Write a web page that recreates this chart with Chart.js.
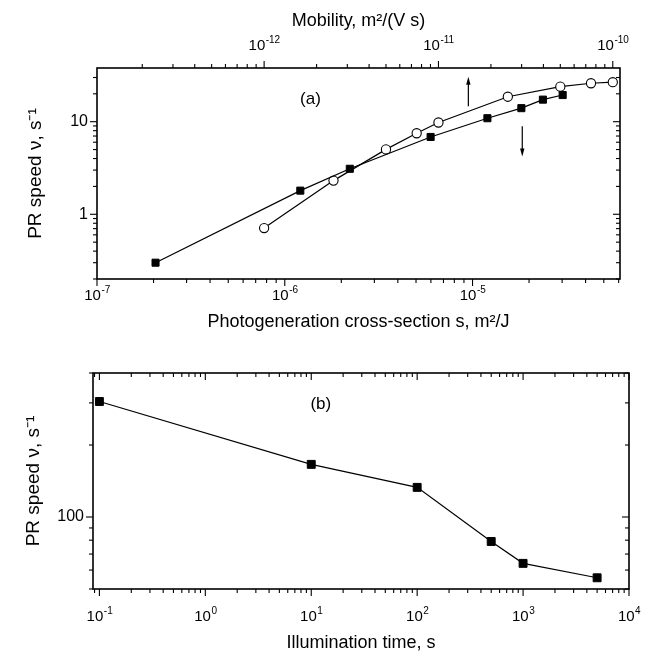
<!DOCTYPE html>
<html>
<head>
<meta charset="utf-8">
<script src="https://cdn.jsdelivr.net/npm/chart.js@4.4.1/dist/chart.umd.min.js"></script>
<style>
  body { margin: 0; background: #fff; }
  #wrapA { position: absolute; left: 0; top: 0; width: 657px; height: 345px; }
  #wrapB { position: absolute; left: 0; top: 345px; width: 657px; height: 315px; }
</style>
</head>
<body>
<div id="wrapA"><canvas id="chartA" width="657" height="345"></canvas></div>
<div id="wrapB"><canvas id="chartB" width="657" height="315"></canvas></div>
<script>
// (a) PR speed vs photogeneration cross-section (filled squares, bottom axis)
const crossSection = [2.05e-7, 1.21e-6, 2.22e-6, 5.98e-6, 1.2e-5, 1.82e-5, 2.37e-5, 3.02e-5];
const speedCross   = [0.30, 1.80, 3.10, 6.84, 10.9, 14.0, 17.3, 19.4];
// (a) PR speed vs mobility (open circles, top axis)
const mobility = [1e-12, 2.5e-12, 5e-12, 7.5e-12, 1e-11, 2.5e-11, 5e-11, 7.5e-11, 1e-10];
const speedMob = [0.71, 2.31, 5.02, 7.5, 9.8, 18.6, 23.9, 26.0, 26.7];
// (b) PR speed vs illumination time
const illumTime = [0.1, 10, 100, 500, 1000, 5000];
const speedTime = [304, 166, 133, 79, 64, 55.7];

// axis ranges
const rangeCross  = [1e-7, 6.1e-5];
const rangeMob    = [1.1e-13, 1.1e-10];
const rangeSpeedA = [0.2, 38];
const rangeTime   = [0.087, 1e4];
const rangeSpeedB = [50, 400];

// arrows in (a): x on cross-section axis, y from -> to
const arrowX    = [9.5e-6, 1.84e-5];
const arrowFrom = [14.7, 8.9];
const arrowTo   = [30.5, 4.2];

const FONT = '"Liberation Sans", Arial, sans-serif';
Chart.defaults.font.family = FONT;
Chart.defaults.color = '#000';

function isDecade(v) {
  const e = Math.log10(v);
  return Math.abs(e - Math.round(e)) < 1e-6;
}
function plainLabel(v) {
  if (!isDecade(v)) return '';
  return String(Math.round(v));
}

// box, log ticks and 10^n labels with real superscripts
const framePlugin = {
  id: 'frame',
  afterDraw(chart, args, opts) {
    const ctx = chart.ctx, a = chart.chartArea;
    ctx.save();
    ctx.strokeStyle = '#000';
    ctx.fillStyle = '#000';
    ctx.lineWidth = 1.6;
    ctx.strokeRect(a.left, a.top, a.right - a.left, a.bottom - a.top);
    ctx.lineWidth = 1.1;
    opts.sides.forEach(([id, side, dir]) => {
      const s = chart.scales[id];
      const lo = Math.floor(Math.log10(s.min)), hi = Math.ceil(Math.log10(s.max));
      for (let e = lo; e <= hi; e++) {
        for (let k = 1; k <= 9; k++) {
          const v = k * Math.pow(10, e);
          if (v < s.min * 0.999 || v > s.max * 1.001) continue;
          const p = s.getPixelForValue(v);
          const len = (k === 1 ? 7 : 4) * dir;
          ctx.beginPath();
          if (side === 'bottom') { ctx.moveTo(p, a.bottom); ctx.lineTo(p, a.bottom + len); }
          if (side === 'top')    { ctx.moveTo(p, a.top);    ctx.lineTo(p, a.top - len); }
          if (side === 'left')   { ctx.moveTo(a.left, p);   ctx.lineTo(a.left - len, p); }
          if (side === 'right')  { ctx.moveTo(a.right, p);  ctx.lineTo(a.right + len, p); }
          ctx.stroke();
        }
      }
    });
    // "10" with superscript exponent, centred on each decade tick
    ctx.textBaseline = 'alphabetic';
    ctx.textAlign = 'left';
    (opts.powLabels || []).forEach(([id, baseY]) => {
      const s = chart.scales[id];
      const lo = Math.ceil(Math.log10(s.min) - 1e-9), hi = Math.floor(Math.log10(s.max) + 1e-9);
      const y = baseY(a);
      for (let e = lo; e <= hi; e++) {
        const p = s.getPixelForValue(Math.pow(10, e));
        const exp = String(e);
        ctx.font = '15px ' + FONT;
        const wb = ctx.measureText('10').width;
        ctx.font = '10px ' + FONT;
        const we = ctx.measureText(exp).width;
        const x0 = p - (wb + we) / 2;
        ctx.font = '15px ' + FONT;
        ctx.fillText('10', x0, y);
        ctx.font = '10px ' + FONT;
        ctx.fillText(exp, x0 + wb + 0.5, y - 7);
      }
    });
    ctx.restore();
  }
};

// panel letters and arrows
const notePlugin = {
  id: 'notes',
  afterDatasetsDraw(chart, args, opts) {
    const ctx = chart.ctx;
    const xs = chart.scales[opts.xScale], ys = chart.scales[opts.yScale];
    ctx.save();
    ctx.fillStyle = '#000';
    ctx.strokeStyle = '#000';
    ctx.font = '17px ' + FONT;
    ctx.textAlign = 'center';
    ctx.textBaseline = 'middle';
    ctx.fillText(opts.label, xs.getPixelForValue(opts.labelAt[0]), ys.getPixelForValue(opts.labelAt[1]));
    (opts.arrowX || []).forEach((xv, i) => {
      const x = xs.getPixelForValue(xv);
      const y0 = ys.getPixelForValue(opts.arrowFrom[i]);
      const y1 = ys.getPixelForValue(opts.arrowTo[i]);
      const d = y1 < y0 ? -1 : 1;
      ctx.lineWidth = 1.2;
      ctx.beginPath();
      ctx.moveTo(x, y0);
      ctx.lineTo(x, y1 - d * 6);
      ctx.stroke();
      ctx.beginPath();
      ctx.moveTo(x, y1);
      ctx.lineTo(x - 2.2, y1 - d * 8);
      ctx.lineTo(x + 2.2, y1 - d * 8);
      ctx.closePath();
      ctx.fill();
    });
    ctx.restore();
  }
};

const titleFont = { size: 18 };
const noLabels = { autoSkip: false, display: true, callback: () => '' };

new Chart(document.getElementById('chartA'), {
  type: 'line',
  data: {
    datasets: [
      {
        data: crossSection.map((x, i) => ({ x: x, y: speedCross[i] })),
        xAxisID: 'x', yAxisID: 'y',
        borderColor: '#000', borderWidth: 1.2,
        pointStyle: 'rect', pointRadius: 5,
        pointBackgroundColor: '#000', pointBorderColor: '#000', pointBorderWidth: 1
      },
      {
        data: mobility.map((x, i) => ({ x: x, y: speedMob[i] })),
        xAxisID: 'x2', yAxisID: 'y',
        borderColor: '#000', borderWidth: 1.2,
        pointStyle: 'circle', pointRadius: 4.6,
        pointBackgroundColor: '#fff', pointBorderColor: '#000', pointBorderWidth: 1.1
      }
    ]
  },
  options: {
    responsive: false,
    animation: false,
    layout: { padding: { left: 0, right: 37, top: 0, bottom: 0 } },
    plugins: {
      legend: { display: false },
      tooltip: { enabled: false },
      frame: {
        sides: [['x', 'bottom', 1], ['x2', 'top', 1], ['y', 'left', 1], ['y', 'right', -1]],
        powLabels: [['x', a => a.bottom + 21], ['x2', a => a.top - 18]]
      },
      notes: {
        xScale: 'x', yScale: 'y',
        label: '(a)', labelAt: [1.37e-6, 17.6],
        arrowX: arrowX, arrowFrom: arrowFrom, arrowTo: arrowTo
      }
    },
    scales: {
      x: {
        type: 'logarithmic', position: 'bottom',
        min: rangeCross[0], max: rangeCross[1],
        grid: { display: false, drawTicks: false },
        border: { display: false },
        ticks: noLabels,
        title: { display: true, text: 'Photogeneration cross-section s, m²/J', font: titleFont, padding: { bottom: 12 } },
        afterFit: s => { s.height = 66; }
      },
      x2: {
        type: 'logarithmic', position: 'top',
        min: rangeMob[0], max: rangeMob[1],
        grid: { display: false, drawTicks: false },
        border: { display: false },
        ticks: noLabels,
        title: { display: true, text: 'Mobility, m²/(V s)', font: titleFont, padding: { top: 10 } },
        afterFit: s => { s.height = 68; }
      },
      y: {
        type: 'logarithmic', position: 'left',
        min: rangeSpeedA[0], max: rangeSpeedA[1],
        grid: { display: false, drawTicks: false },
        border: { display: false },
        ticks: { autoSkip: false, padding: 9, font: { size: 16 }, callback: v => plainLabel(v) },
        title: { display: true, text: 'PR speed ν, s⁻¹', font: { size: 19 }, padding: { top: 24 } },
        afterFit: s => { s.width = 97; }
      }
    }
  },
  plugins: [framePlugin, notePlugin]
});

new Chart(document.getElementById('chartB'), {
  type: 'line',
  data: {
    datasets: [
      {
        data: illumTime.map((x, i) => ({ x: x, y: speedTime[i] })),
        borderColor: '#000', borderWidth: 1.2,
        pointStyle: 'rect', pointRadius: 5.6,
        pointBackgroundColor: '#000', pointBorderColor: '#000', pointBorderWidth: 1
      }
    ]
  },
  options: {
    responsive: false,
    animation: false,
    layout: { padding: { left: 0, right: 28, top: 28, bottom: 0 } },
    plugins: {
      legend: { display: false },
      tooltip: { enabled: false },
      frame: {
        sides: [['x', 'bottom', 1], ['x', 'top', -1], ['y', 'left', 1], ['y', 'right', -1]],
        powLabels: [['x', a => a.bottom + 32]]
      },
      notes: { xScale: 'x', yScale: 'y', label: '(b)', labelAt: [12.3, 297] }
    },
    scales: {
      x: {
        type: 'logarithmic', position: 'bottom',
        min: rangeTime[0], max: rangeTime[1],
        grid: { display: false, drawTicks: false },
        border: { display: false },
        ticks: noLabels,
        title: { display: true, text: 'Illumination time, s', font: titleFont, padding: { bottom: 6 } },
        afterFit: s => { s.height = 71; }
      },
      y: {
        type: 'logarithmic', position: 'left',
        min: rangeSpeedB[0], max: rangeSpeedB[1],
        grid: { display: false, drawTicks: false },
        border: { display: false },
        ticks: { autoSkip: false, padding: 9, font: { size: 16 }, callback: v => plainLabel(v) },
        title: { display: true, text: 'PR speed ν, s⁻¹', font: { size: 19 }, padding: { top: 22 } },
        afterFit: s => { s.width = 93; }
      }
    }
  },
  plugins: [framePlugin, notePlugin]
});
</script>
</body>
</html>
